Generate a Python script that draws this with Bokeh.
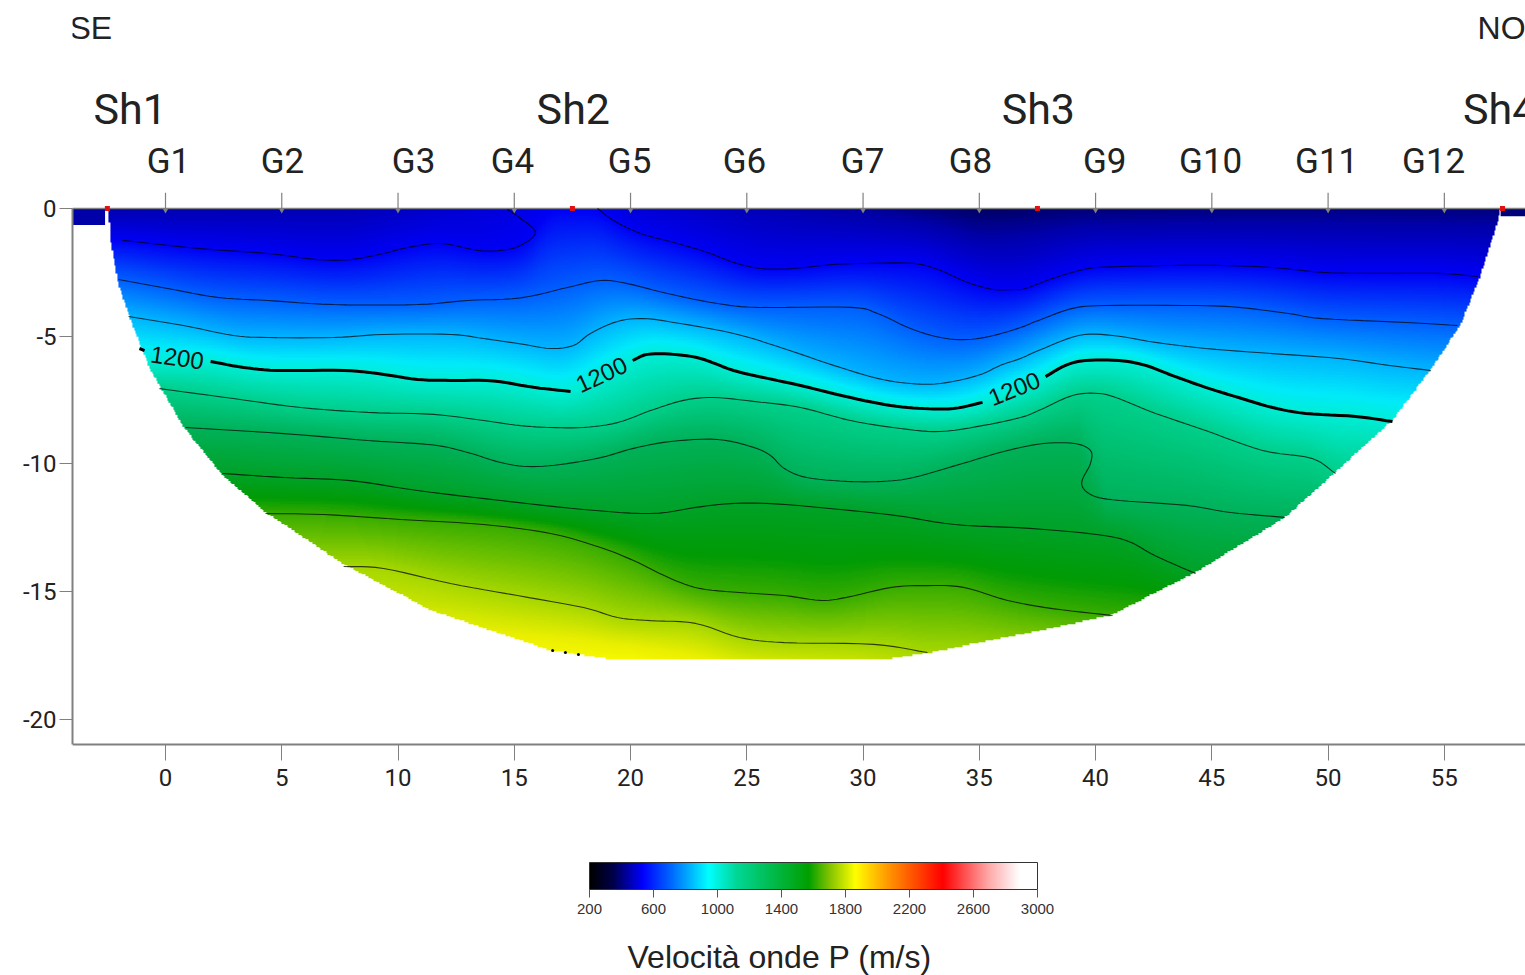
import numpy as np
from bokeh.plotting import figure
from bokeh.models import LinearColorMapper, FixedTicker, Range1d, ColorBar
from bokeh.core.properties import value
from bokeh.embed import file_html
from bokeh.resources import INLINE

# ---- contour lines: (distance m, depth m)
v600_a = [(-1.85,-1.25),(1.51,-1.57),(4.39,-1.76),(6.54,-2.0),(7.96,-2.0),(9.38,-1.76),(10.41,-1.53),(11.83,-1.37),(13.42,-1.64),(14.41,-1.64),(15.27,-1.45),(15.91,-0.94),(15.27,-0.39),(14.71,-0.04)]
v600_b = [(18.58,0),(19.27,-0.47),(20.43,-0.98),(21.85,-1.33),(23.31,-1.72),(24.43,-2.11),(25.59,-2.35),(27.0,-2.35),(28.73,-2.19),(30.19,-2.15),(32.17,-2.15),(33.33,-2.43),(34.5,-2.9),(35.61,-3.17),(36.47,-3.17),(36.99,-3.13),(38.28,-2.7),(39.7,-2.35),(41.16,-2.27),(43.31,-2.23),(45.46,-2.23),(47.61,-2.31),(49.76,-2.5),(51.91,-2.54),(54.75,-2.54),(56.43,-2.66)]
v800 = [(-2.02,-2.78),(0.09,-3.13),(2.24,-3.48),(4.39,-3.6),(7.23,-3.76),(10.84,-3.76),(12.99,-3.6),(15.27,-3.5),(17.29,-3.09),(18.71,-2.82),(19.87,-2.94),(21.59,-3.33),(23.74,-3.72),(25.46,-3.87),(29.46,-3.87),(30.62,-4.11),(32.04,-4.7),(33.33,-5.05),(34.5,-5.13),(35.61,-4.97),(36.77,-4.66),(37.55,-4.38),(39.01,-3.91),(40.43,-3.8),(44.3,-3.8),(46.15,-3.87),(48.3,-4.11),(49.76,-4.31),(53.33,-4.46),(55.57,-4.58)]
v1000 = [(-1.59,-4.23),(0.77,-4.58),(2.92,-4.97),(4.39,-5.05),(7.23,-5.05),(9.38,-4.93),(12.26,-4.93),(13.68,-5.09),(15.27,-5.3),(16.56,-5.48),(17.55,-5.36),(18.28,-4.89),(19.44,-4.42),(20.56,-4.31),(21.85,-4.46),(24.43,-4.89),(26.58,-5.48),(28.73,-6.14),(30.62,-6.65),(32.04,-6.85),(33.33,-6.85),(34.92,-6.54),(35.91,-6.14),(36.77,-5.87),(37.55,-5.56),(39.27,-4.97),(40.73,-4.97),(42.58,-5.24),(44.73,-5.48),(47.61,-5.68),(50.45,-5.87),(52.6,-6.14),(54.41,-6.34)]
v1200_a = [(-1.12,-5.48),(-0.9,-5.56)]
v1200_b = [(1.94,-5.99),(3.35,-6.22),(4.82,-6.34),(7.66,-6.34),(9.12,-6.46),(10.84,-6.69),(12.26,-6.73),(14.11,-6.75),(15.83,-7.0),(17.42,-7.16)]
v1200_c = [(20.09,-5.95),(20.73,-5.71),(21.85,-5.71),(23.01,-5.87),(24.43,-6.34),(25.89,-6.65),(27.31,-6.93),(29.46,-7.4),(31.18,-7.71),(32.6,-7.83),(33.89,-7.83),(35.14,-7.59)]
v1200_d = [(37.85,-6.58),(38.71,-6.14),(39.57,-5.95),(40.99,-5.95),(42.15,-6.14),(43.31,-6.54),(44.73,-7.0),(46.15,-7.4),(47.61,-7.79),(49.03,-8.02),(51.18,-8.14),(52.77,-8.34)]
v1300 = [(-0.26,-7.05),(2.92,-7.44),(5.81,-7.79),(8.69,-7.98),(11.53,-8.06),(13.68,-8.3),(15.27,-8.5),(16.56,-8.57),(17.98,-8.57),(19.44,-8.38),(20.86,-7.91),(22.28,-7.51),(23.57,-7.4),(25.29,-7.55),(27.31,-7.79),(29.46,-8.3),(31.61,-8.61),(33.33,-8.73),(35.18,-8.49),(36.77,-8.18),(37.55,-7.91),(39.01,-7.32),(40.13,-7.24),(40.99,-7.44),(42.58,-8.02),(44.73,-8.69),(47.18,-9.47),(49.29,-9.78),(50.32,-10.37)]
v1400 = [(0.86,-8.57),(5.08,-8.81),(8.69,-9.08),(11.53,-9.26),(12.99,-9.55),(14.41,-9.94),(15.57,-10.1),(16.99,-10.02),(18.71,-9.75),(20.13,-9.39),(21.72,-9.12),(23.74,-9.04),(25.29,-9.35),(26.02,-9.67),(26.62,-10.18),(27.57,-10.53),(29.29,-10.68),(30.84,-10.68),(32.17,-10.53),(34.28,-9.98),(36.22,-9.47),(37.76,-9.2),(39.1,-9.2),(39.78,-9.47),(39.78,-9.98),(39.4,-10.76),(39.87,-11.23),(41.03,-11.43),(43.91,-11.62),(45.81,-11.9),(48.13,-12.09)]
v1500 = [(2.45,-10.37),(5.08,-10.53),(7.96,-10.65),(10.84,-11.04),(14.41,-11.43),(17.98,-11.78),(20.86,-11.94),(22.8,-11.7),(24.3,-11.55),(26.02,-11.55),(28.56,-11.74),(31.44,-12.02),(33.94,-12.37),(37.16,-12.52),(40.04,-12.76),(41.42,-13.03),(42.54,-13.58),(44.3,-14.29)]
v1600 = [(4.3,-11.94),(6.8,-11.98),(10.11,-12.17),(13.68,-12.37),(16.56,-12.72),(18.71,-13.27),(20.13,-13.78),(21.72,-14.48),(22.97,-14.87),(24.69,-15.03),(26.62,-15.15),(28.17,-15.34),(29.29,-15.22),(31.23,-14.83),(32.77,-14.76),(34.32,-14.83),(36.22,-15.34),(38.15,-15.66),(40.73,-15.93)]
v1700 = [(7.66,-14.01),(9.38,-14.09),(12.26,-14.68),(15.14,-15.15),(17.98,-15.62),(19.44,-16.01),(20.86,-16.13),(22.8,-16.24),(24.69,-16.79),(26.62,-16.99),(30.45,-17.06),(32.77,-17.38)]
v1800_x = [16.65,17.2,17.76]
v1800_y = [-17.3,-17.38,-17.46]

levels = [600,800,1000,1200,1300,1400,1500,1600,1700]

# lower limit of the section: distance, depth
limit_x = [-2.45,-2.37,-2.02,-1.51,-0.65,0.77,2.45,4.3,7.74,11.4,16.56,19.23,30.97,32.9,37.63,40.65,44.3,48.17,50.32,52.77,54.4,55.7,56.56,57.29,57.42]
limit_y = [0,-1.25,-3.01,-4.38,-6.34,-8.57,-10.45,-11.9,-13.97,-15.73,-17.3,-17.65,-17.65,-17.38,-16.52,-15.93,-14.25,-12.09,-10.33,-8.3,-6.34,-4.58,-2.62,-0.55,0]

# velocity along the surface and along the base of the section
surface_x = [-2.5,8,15,17.5,20,25,30,35,40,50,57.5]
surface_v = [455,470,560,630,545,480,430,360,385,400,390]
base_x = [8,12,17,20,25,30,33,38,45]
base_v = [1830,1880,1880,1880,1800,1770,1720,1640,1560]

# colours of the section against velocity
field_v = [350,450,600,800,1000,1130,1200,1300,1400,1500,1560,1600,1700,1800,1880]
field_c = [(0,0,90),(0,0,170),(0,0,245),(0,95,255),(0,180,255),(0,235,250),(0,238,215),(0,208,140),(0,178,90),(0,162,40),(0,155,5),(55,172,0),(165,215,0),(235,240,0),(255,255,0)]

# colours of the scale
scale_v = [200,340,530,720,944,1120,1570,1700,1862,2070,2410,2700,2890,3000]
scale_c = [(0,0,0),(0,0,70),(0,0,255),(0,110,255),(0,255,255),(0,215,150),(0,160,0),(130,195,0),(255,255,0),(255,150,0),(255,0,0),(255,170,170),(255,255,255),(255,255,255)]
scale_ticks = [200,600,1000,1400,1800,2200,2600,3000]

x_ticks = [0,5,10,15,20,25,30,35,40,45,50,55]
y_ticks = [0,-5,-10,-15,-20]
y_tick_names = {0:"0",-5:"-5",-10:"-10",-15:"-15",-20:"-20"}
geophones = [0,5,10,15,20,25,30,35,40,45,50,55]
shots = [-2.5,17.5,37.5,57.5]
g_names = ["G1","G2","G3","G4","G5","G6","G7","G8","G9","G10","G11","G12"]
g_label_x = [0.13,5.03,10.67,14.92,19.96,24.9,29.98,34.62,40.39,44.95,49.94,54.54]
sh_names = ["Sh1","Sh2","Sh3","Sh4"]
sh_label_x = [-3.1,15.96,35.96,55.8]
contour_labels = ["1200","1200","1200"]
contour_label_x = [0.5,18.75,36.5]
contour_label_y = [-5.83,-6.5,-7.05]
contour_label_angle = [-8,25,22]
side_x = [[-4,-2.6],[57.42,58.6]]
side_y = [-0.65,-0.3]

FONT = "Liberation Sans"
COND = "Roboto"
INK = "#222222"
GREY = "#808080"

def smooth(pts, n=6):
    p = np.array(pts, float)
    if len(p) < 3:
        return p
    q = np.vstack([2*p[0]-p[1], p, 2*p[-1]-p[-2]])
    out = []
    for i in range(1, len(q)-2):
        t = np.linspace(0, 1, n, endpoint=False)[:, None]
        a, b, c, d = q[i-1], q[i], q[i+1], q[i+2]
        out.append(0.5*(2*b+(c-a)*t+(2*a-5*b+4*c-d)*t**2+(3*b-a-3*c+d)*t**3))
    out.append(p[-1:])
    return np.vstack(out)

def ramp(vs, cs, lo, hi, n=512):
    grid = np.linspace(lo, hi, n)
    a = np.array(cs, float)
    rgb = np.stack([np.interp(grid, vs, a[:, k]) for k in range(3)], axis=1).astype(int)
    return ["#%02x%02x%02x" % tuple(c) for c in rgb]

# ---- velocity field, between the contour lines
dx = dy = 0.06
xs = np.arange(-2.5, 57.5, dx) + dx/2
ys = np.arange(-18.0, 0.0, dy) + dy/2

def column_depth(line, xs):
    l = np.asarray(line)
    keep = np.r_[True, l[1:, 0] > np.maximum.accumulate(l[:, 0])[:-1]]
    raw = np.interp(xs, l[keep, 0], l[keep, 1])
    w = 2*int(0.55/dx)+1
    padded = np.r_[[raw[0]]*(w//2), raw, [raw[-1]]*(w//2)]
    return np.convolve(padded, np.ones(w)/w, mode="valid")

field = np.full((len(ys), len(xs)), np.nan)
l600 = np.vstack([smooth(v600_a[:12]), [[16.4, 0.0]], smooth(v600_b)])
lines = [l600] + [smooth(a) for a in (v800, v1000, v1200_b + v1200_c + v1200_d, v1300, v1400, v1500, v1600, v1700)]
depth = np.array([column_depth(l, xs) for l in lines])
surf = np.interp(xs, surface_x, surface_v)
base = np.interp(xs, base_x, base_v)
bottom = np.interp(xs, limit_x, limit_y)
for j, x in enumerate(xs):
    if x < limit_x[0] or x > limit_x[-1]:
        continue
    d = np.r_[0.0, np.minimum.accumulate(depth[:, j]), -18.0]
    d = d - np.arange(len(d))*1e-4
    v = np.r_[surf[j], levels, base[j]]
    col = np.interp(-ys, -d, v)
    col[ys < bottom[j]] = np.nan
    field[:, j] = col

XMIN, XMAX = -4.0, 58.49
YMIN, YMAX = -30.02, 8.14
AXIS_Y = -20.98
p = figure(width=1525, height=975, x_range=Range1d(XMIN, XMAX), y_range=Range1d(YMIN, YMAX),
           output_backend="svg", toolbar_location=None, min_border_left=72, min_border_right=0,
           min_border_top=0, min_border_bottom=0, outline_line_color=None)
p.grid.visible = False
for ax, ticks in ((p.xaxis[0], x_ticks), (p.yaxis[0], y_ticks)):
    ax.ticker = FixedTicker(ticks=ticks)
    ax.axis_line_color = GREY
    ax.axis_line_width = 2
    ax.major_tick_line_color = GREY
    ax.minor_tick_line_color = None
    ax.major_tick_in = 0
    ax.major_label_text_font = COND
    ax.major_label_text_font_size = "24px"
    ax.major_label_text_color = INK
p.yaxis[0].bounds = (AXIS_Y, 0)
p.yaxis[0].major_tick_out = 13
p.yaxis[0].major_label_standoff = 3
p.yaxis[0].major_label_overrides = y_tick_names
p.xaxis[0].fixed_location = AXIS_Y
p.xaxis[0].major_tick_out = 16
p.xaxis[0].major_label_standoff = 8

mapper = LinearColorMapper(palette=ramp(field_v, field_c, 350, 1880), low=350, high=1880, nan_color="rgba(0,0,0,0)")
p.image(image=[field], x=xs[0]-dx/2, y=ys[0]-dy/2, dw=len(xs)*dx, dh=len(ys)*dy, color_mapper=mapper)

# side blocks and surface line
p.quad(left=[side_x[0][0], side_x[1][0]], right=[side_x[0][1], side_x[1][1]], top=[0, 0], bottom=side_y,
       fill_color=["#0000a8", "#000078"], line_color=None)
p.segment(x0=[XMIN], x1=[XMAX], y0=[0], y1=[0], line_color=GREY, line_width=1.5)

# contour lines
thin = [v600_a, v600_b, v800, v1000, v1300, v1400, v1500, v1600, v1700]
for l in thin:
    s = smooth(l)
    p.line(s[:, 0], s[:, 1], line_color="#000000", line_alpha=0.72, line_width=1.1)
for l in (v1200_a, v1200_b, v1200_c, v1200_d):
    s = smooth(l)
    p.line(s[:, 0], s[:, 1], line_color="#000000", line_width=3)
p.scatter(v1800_x, v1800_y, marker="circle", size=3, fill_color="black", line_color=None)

# geophones and shots
p.segment(x0=geophones, x1=geophones, y0=[0.62]*12, y1=[-0.1]*12, line_color=GREY, line_width=1.2)
p.scatter(geophones, [-0.06]*12, marker="inverted_triangle", size=6, fill_color=GREY, line_color=None)
p.scatter(shots, [0]*4, marker="square", size=5, fill_color="#e01010", line_color=None)

# texts
p.text(x=g_label_x, y=[1.84]*12, text=g_names, text_font=value(COND), text_font_size="35px",
       text_align="center", text_baseline="middle", text_color=INK)
p.text(x=sh_label_x, y=[3.91]*4, text=sh_names, text_font=value(COND), text_font_size="43px",
       text_align="left", text_baseline="middle", text_color=INK)
p.text(x=[-4.13, 56.43], y=[7.06, 7.06], text=["SE", "NO"], text_font=value(FONT), text_font_size="32px",
       text_align="left", text_baseline="middle", text_color=INK)
p.text(x=contour_label_x, y=contour_label_y, text=contour_labels, angle=contour_label_angle, angle_units="deg",
       text_font=value(FONT), text_font_size="24px", text_align="center", text_baseline="middle", text_color="#111111")
p.text(x=[19.87], y=[-29.31], text=["Velocità onde P (m/s)"], text_font=value(FONT), text_font_size="32px",
       text_align="left", text_baseline="middle", text_color=INK)

# ---- colour scale
scale_mapper = LinearColorMapper(palette=ramp(scale_v, scale_c, 200, 3000, 448), low=200, high=3000)
bar = ColorBar(color_mapper=scale_mapper, ticker=FixedTicker(ticks=scale_ticks), location=(517, 59), orientation="horizontal",
               width=448, height=27, padding=0, margin=0, background_fill_color=None, border_line_color=None,
               bar_line_color="#333333", major_tick_line_color="#555555", major_tick_in=0, major_tick_out=8,
               minor_tick_line_color=None, label_standoff=6, major_label_text_font=FONT,
               major_label_text_font_size="15px", major_label_text_color="#333333")
p.add_layout(bar)

open("out.html", "w").write(file_html(p, INLINE))
